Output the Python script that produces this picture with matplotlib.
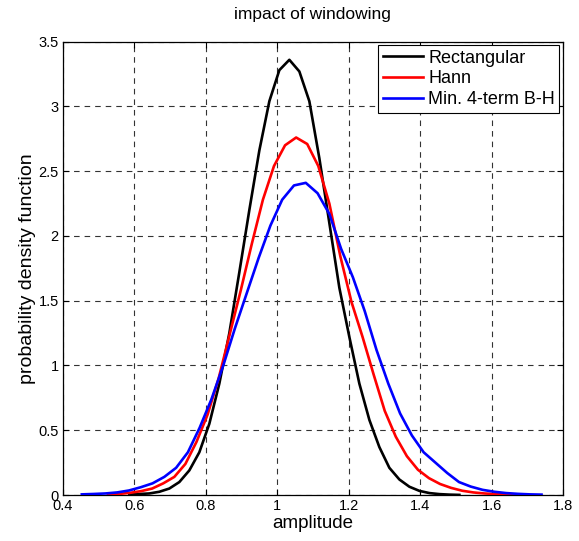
import matplotlib
matplotlib.use("Agg")
import matplotlib.pyplot as plt

plt.rcParams["font.family"] = ["Liberation Sans", "DejaVu Sans"]

# ── data (histogram-style pdf estimates) ──
rect_x = [0.586, 0.614, 0.642, 0.670, 0.698, 0.726, 0.754, 0.782, 0.810, 0.838,
          0.866, 0.894, 0.922, 0.950, 0.978, 1.006, 1.034, 1.062, 1.090, 1.118,
          1.146, 1.174, 1.202, 1.230, 1.258, 1.286, 1.314, 1.342, 1.370, 1.398,
          1.426, 1.454, 1.482, 1.510]
rect_y = [0.003, 0.008, 0.012, 0.025, 0.05, 0.10, 0.19, 0.33, 0.55, 0.86,
          1.25, 1.72, 2.20, 2.66, 3.04, 3.28, 3.36, 3.27, 3.04, 2.60,
          2.10, 1.60, 1.22, 0.86, 0.58, 0.37, 0.21, 0.12, 0.064, 0.032,
          0.015, 0.007, 0.003, 0.001]

hann_x = [0.526, 0.557, 0.588, 0.619, 0.650, 0.681, 0.712, 0.743, 0.774, 0.805,
          0.836, 0.867, 0.898, 0.929, 0.960, 0.991, 1.022, 1.053, 1.084, 1.115,
          1.146, 1.177, 1.208, 1.239, 1.270, 1.301, 1.332, 1.363, 1.394, 1.425,
          1.456, 1.487, 1.518, 1.549, 1.580, 1.611, 1.642, 1.673]
hann_y = [0.004, 0.008, 0.017, 0.03, 0.05, 0.09, 0.14, 0.24, 0.41, 0.62,
          0.90, 1.24, 1.58, 1.94, 2.28, 2.54, 2.70, 2.76, 2.71, 2.54,
          2.25, 1.84, 1.49, 1.22, 0.93, 0.65, 0.45, 0.30, 0.195, 0.13,
          0.085, 0.055, 0.033, 0.02, 0.012, 0.007, 0.004, 0.002]

bh_x = [0.453, 0.486, 0.519, 0.552, 0.585, 0.618, 0.651, 0.684, 0.717, 0.750,
        0.783, 0.816, 0.849, 0.882, 0.915, 0.948, 0.981, 1.014, 1.047, 1.080,
        1.113, 1.146, 1.179, 1.212, 1.245, 1.278, 1.311, 1.344, 1.377, 1.410,
        1.443, 1.476, 1.509, 1.542, 1.575, 1.608, 1.641, 1.674, 1.707, 1.740]
bh_y = [0.005, 0.008, 0.012, 0.02, 0.035, 0.06, 0.09, 0.14, 0.21, 0.33,
        0.52, 0.74, 1.00, 1.29, 1.56, 1.83, 2.08, 2.28, 2.39, 2.41,
        2.33, 2.17, 1.90, 1.68, 1.42, 1.12, 0.86, 0.63, 0.46, 0.33,
        0.25, 0.17, 0.10, 0.065, 0.04, 0.025, 0.015, 0.009, 0.005, 0.003]

labels = ["Rectangular", "Hann", "Min. 4-term B-H"]
colors = ["black", "red", "blue"]

x_ticks = [0.4, 0.6, 0.8, 1.0, 1.2, 1.4, 1.6, 1.8]
y_ticks = [0, 0.5, 1, 1.5, 2, 2.5, 3, 3.5]

# ── figure ───────────────────────────────────────────────────────
fig = plt.figure(figsize=(5.79, 5.41), dpi=100, facecolor="white")
ax = fig.add_axes([0.1086, 0.085, 0.8637, 0.838])

for (xs, ys), lab, col in zip([(rect_x, rect_y), (hann_x, hann_y), (bh_x, bh_y)],
                              labels, colors):
    ax.plot(xs, ys, color=col, lw=1.9, label=lab, zorder=3)

ax.set_xlim(0.4, 1.8)
ax.set_ylim(0, 3.5)
ax.set_xticks(x_ticks)
ax.set_xticklabels([f"{v:g}" for v in x_ticks])
ax.set_yticks(y_ticks)
ax.set_yticklabels([f"{v:g}" for v in y_ticks])

ax.grid(True, color="0.2", lw=0.8, linestyle=(0, (5, 4.5)))
ax.tick_params(direction="in", length=4, width=0.8, top=True, right=True,
               labelsize=10.5, colors="black", pad=3)
for s in ax.spines.values():
    s.set_linewidth(0.9)
    s.set_color("black")

ax.set_xlabel("amplitude", fontsize=13.5, labelpad=1)
ax.set_ylabel("probability density function", fontsize=14, labelpad=2)
ax.set_title("impact of windowing", fontsize=12.5, pad=16)

leg = ax.legend(loc="upper right", fontsize=13, handlelength=2.2,
                handletextpad=0.3, borderaxespad=0.2, labelspacing=0.2,
                borderpad=0.25, fancybox=False, framealpha=1)
leg.get_frame().set_edgecolor("black")
leg.get_frame().set_linewidth(0.8)

fig.savefig("out.png", dpi=100, facecolor="white")
